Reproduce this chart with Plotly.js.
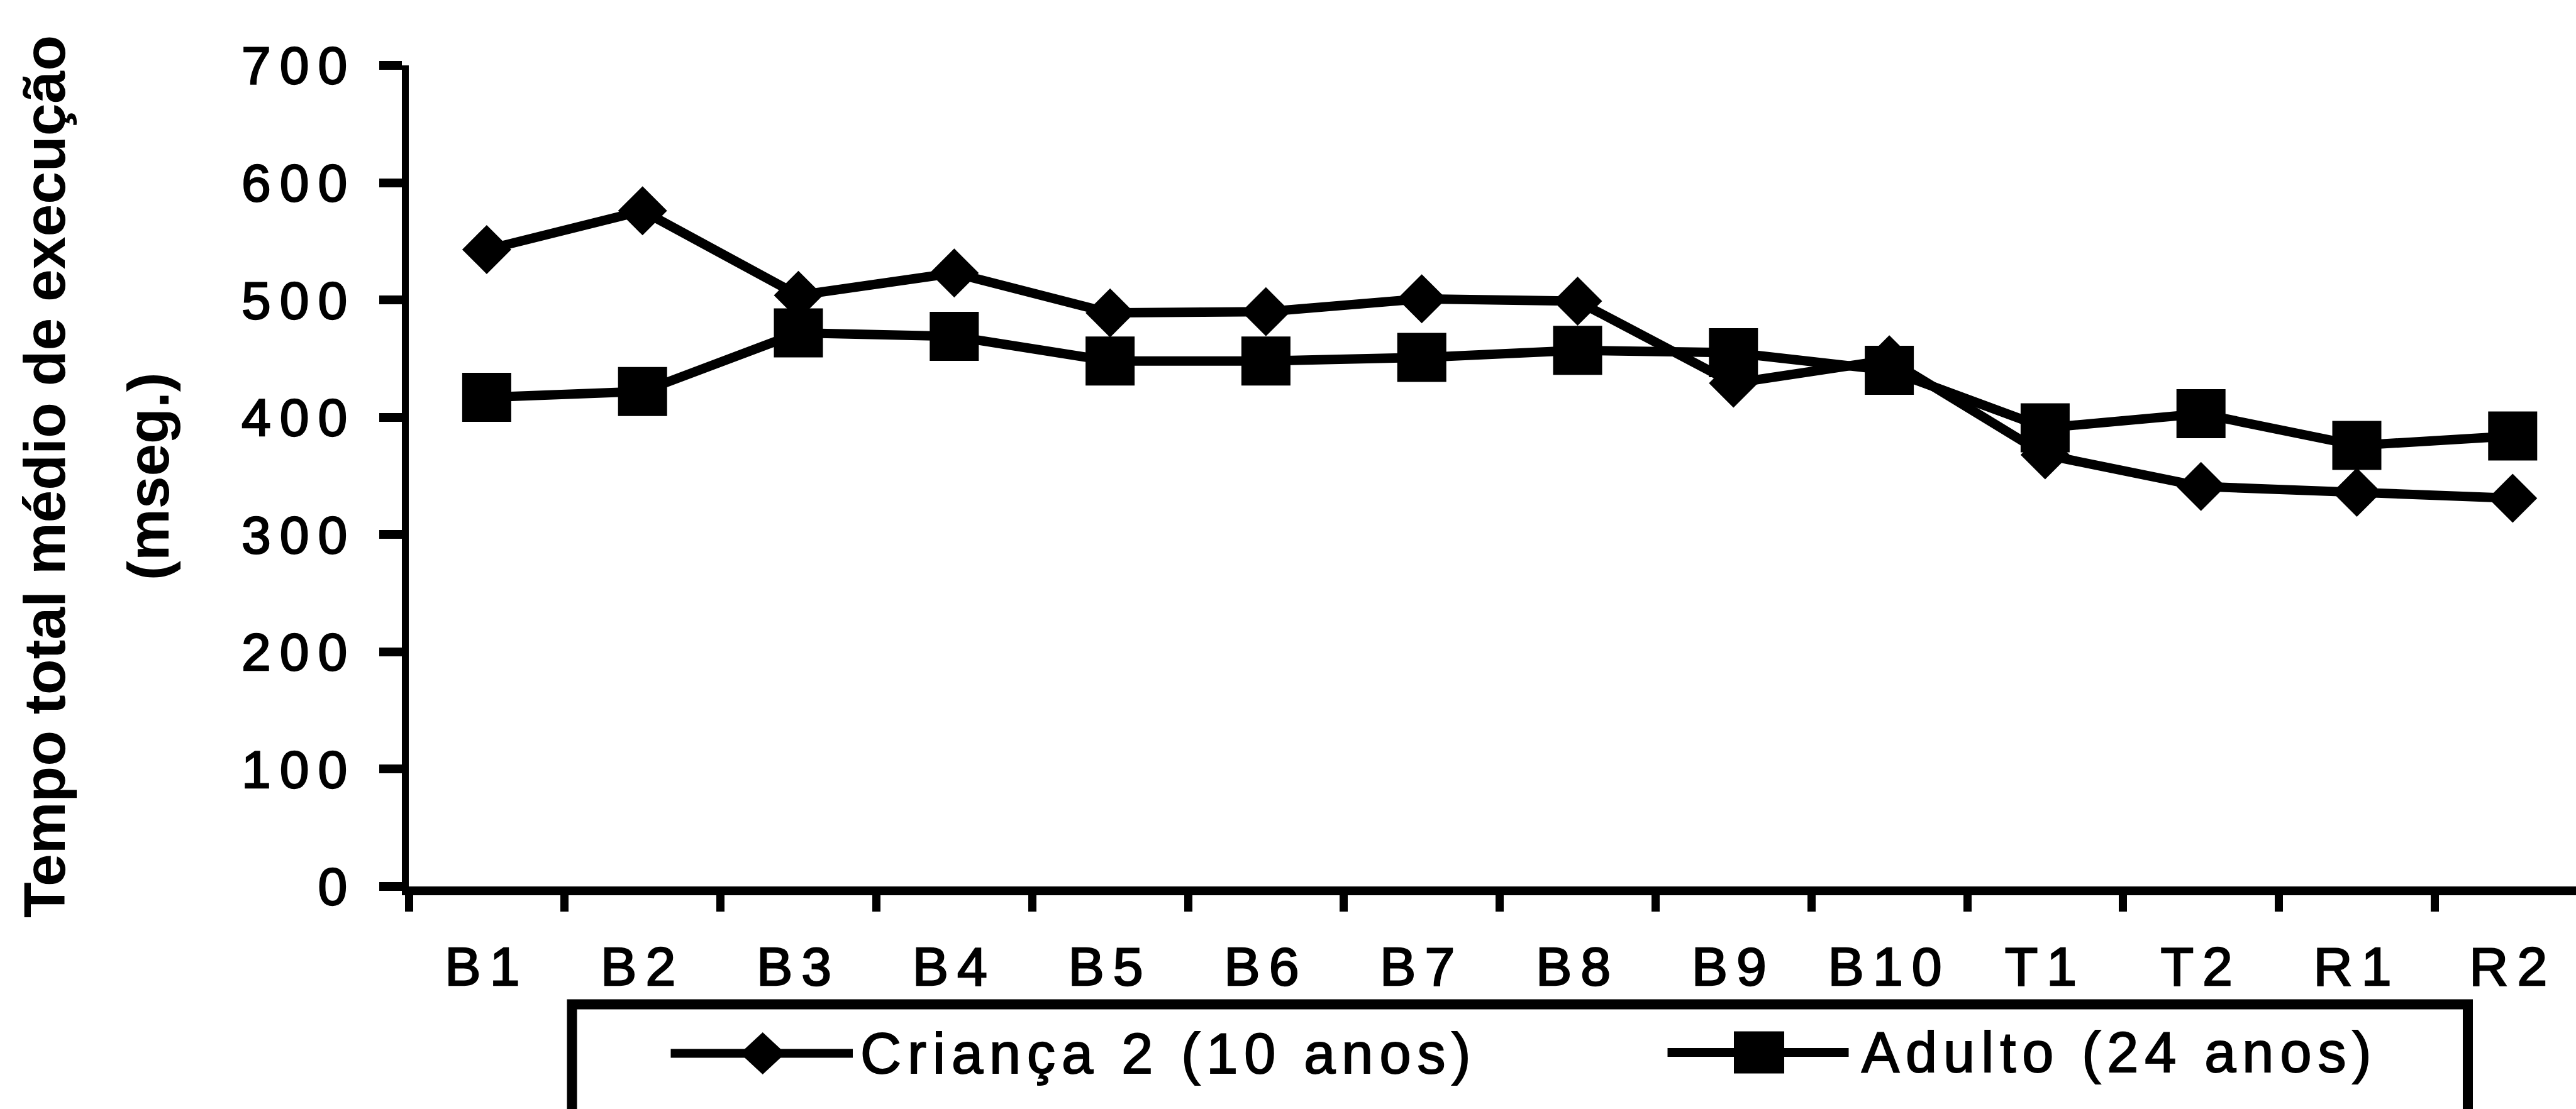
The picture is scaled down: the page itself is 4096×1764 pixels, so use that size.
<!DOCTYPE html>
<html>
<head>
<meta charset="utf-8">
<script src="https://cdn.plot.ly/plotly-3.0.1.min.js"></script>
<style>
  html, body { margin: 0; padding: 0; background: #ffffff; }
  #chart { width: 4096px; height: 1764px; }
  /* wide tracking and a slightly heavier stroke for tick labels and legend entries */
  .xtick text, .ytick text { letter-spacing: 14px; stroke: #000; stroke-width: 2.4px; }
  g.annotation[data-index="2"] text,
  g.annotation[data-index="3"] text { letter-spacing: 10px; stroke: #000; stroke-width: 2px; }
</style>
</head>
<body>
<div id="chart"></div>
<script>
// Blocks of the task
const categories = ["B1", "B2", "B3", "B4", "B5", "B6", "B7", "B8", "B9", "B10", "T1", "T2", "R1", "R2"];

// Mean total execution time (ms)
const crianca = [543, 576, 504, 523, 489, 490, 501, 499, 429, 449, 368, 341, 336, 331];
const adulto  = [417, 422, 472, 469, 448, 448, 451, 457, 455, 440, 391, 403, 376, 384];

const seriesNames = ["Criança 2 (10 anos)", "Adulto (24 anos)"];
const yTitle = "Tempo total médio de execução";
const yUnit = "(mseg.)";

const W = 4096, H = 1764;
const FONT = "Liberation Sans, Arial, Helvetica, sans-serif";
const BLACK = "#000000";

// pixel -> paper helpers (margins are zero, so paper spans the whole figure)
const px = x => x / W;
const py = y => 1 - y / H;

// plot area geometry
const plotLeft = 650, plotTop = 104, plotBottom = 1410;
const catStep = 247.8;

const traces = [
  {
    type: "scatter", mode: "lines+markers", name: seriesNames[0],
    x: categories, y: crianca,
    line: { color: BLACK, width: 15 },
    marker: { symbol: "diamond", size: 60, color: BLACK }
  },
  {
    type: "scatter", mode: "lines+markers", name: seriesNames[1],
    x: categories, y: adulto,
    line: { color: BLACK, width: 15 },
    marker: { symbol: "square", size: 78, color: BLACK }
  }
];

// legend frame and sample glyphs
const legendY1 = 1675.6, legendY2 = 1674;
const shapes = [
  {
    type: "rect", xref: "paper", yref: "paper",
    x0: px(909.5), x1: px(3924), y0: py(1597.5), y1: py(H + 40),
    line: { color: BLACK, width: 16 }, fillcolor: "rgba(0,0,0,0)"
  },
  {
    type: "line", xref: "paper", yref: "paper",
    x0: px(1066.5), x1: px(1356), y0: py(legendY1), y1: py(legendY1),
    line: { color: BLACK, width: 14 }
  },
  {
    type: "path", xref: "paper", yref: "paper",
    xsizemode: "pixel", ysizemode: "pixel",
    xanchor: px(1212.7), yanchor: py(legendY1),
    path: "M-36,0 L0,33.5 L36,0 L0,-33.5 Z",
    fillcolor: BLACK, line: { color: BLACK, width: 0 }
  },
  {
    type: "line", xref: "paper", yref: "paper",
    x0: px(2651.5), x1: px(2939.5), y0: py(legendY2), y1: py(legendY2),
    line: { color: BLACK, width: 14 }
  },
  {
    type: "rect", xref: "paper", yref: "paper",
    xsizemode: "pixel", ysizemode: "pixel",
    xanchor: px(2797), yanchor: py(legendY2),
    x0: -40, x1: 40, y0: -33.5, y1: 33.5,
    fillcolor: BLACK, line: { color: BLACK, width: 0 }
  }
];

const annotations = [
  {
    text: yTitle, xref: "paper", yref: "paper", x: px(71), y: py(758),
    xanchor: "center", yanchor: "middle", textangle: -90, showarrow: false,
    font: { family: FONT, size: 93, weight: 700, color: BLACK }
  },
  {
    text: yUnit, xref: "paper", yref: "paper", x: px(236), y: py(758),
    xanchor: "center", yanchor: "middle", textangle: -90, showarrow: false,
    font: { family: FONT, size: 93, weight: 700, color: BLACK }
  },
  {
    text: seriesNames[0], xref: "paper", yref: "paper", x: px(1366), y: py(1676),
    xanchor: "left", yanchor: "middle", align: "left", showarrow: false,
    font: { family: FONT, size: 90, color: BLACK }
  },
  {
    text: seriesNames[1], xref: "paper", yref: "paper", x: px(2958), y: py(1674),
    xanchor: "left", yanchor: "middle", align: "left", showarrow: false,
    font: { family: FONT, size: 90, color: BLACK }
  }
];

const layout = {
  width: W, height: H,
  margin: { l: 0, r: 0, t: 0, b: 0, pad: 0 },
  paper_bgcolor: "#ffffff", plot_bgcolor: "#ffffff",
  showlegend: false,
  font: { family: FONT, color: BLACK },
  xaxis: {
    type: "category",
    domain: [px(plotLeft), 1],
    range: [-0.5, -0.5 + (W - plotLeft) / catStep],
    showline: true, linewidth: 14, linecolor: BLACK,
    ticks: "outside", tickson: "boundaries", ticklen: 26, tickwidth: 13, tickcolor: BLACK,
    tickfont: { family: FONT, size: 86, color: BLACK },
    ticklabelstandoff: 40,
    showgrid: false, zeroline: false, fixedrange: true
  },
  yaxis: {
    domain: [py(plotBottom), py(plotTop)],
    range: [0, 700], tick0: 0, dtick: 100,
    showline: true, linewidth: 11, linecolor: BLACK,
    ticks: "outside", ticklen: 36, tickwidth: 14, tickcolor: BLACK,
    tickfont: { family: FONT, size: 84, color: BLACK },
    ticklabelstandoff: 20,
    showgrid: false, zeroline: false, fixedrange: true
  },
  shapes: shapes,
  annotations: annotations
};

Plotly.newPlot("chart", traces, layout, { staticPlot: true, displayModeBar: false });
</script>
</body>
</html>
